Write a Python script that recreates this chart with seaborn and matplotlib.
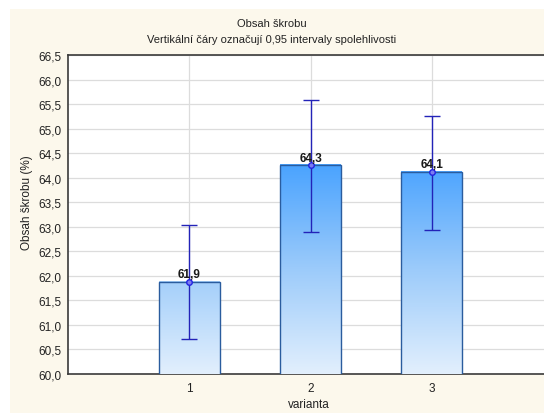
import numpy as np
import pandas as pd
import matplotlib
matplotlib.use("Agg")
import matplotlib.pyplot as plt
from matplotlib.patches import Rectangle
from matplotlib.colors import LinearSegmentedColormap
import seaborn as sns

# Mean starch content per variant with 0.95 confidence limits
varianta = ["1", "2", "3"]
prumer = [61.88, 64.26, 64.12]
ci_dolni = [60.71, 62.90, 62.94]
ci_horni = [63.04, 65.59, 65.25]
y_ticks = [60.0, 60.5, 61.0, 61.5, 62.0, 62.5, 63.0, 63.5, 64.0, 64.5, 65.0, 65.5, 66.0, 66.5]

sns.set_theme(style="white")
plt.rcParams["font.family"] = ["Liberation Sans", "DejaVu Sans"]

cream = "#FCF8EC"
fig = plt.figure(figsize=(5.44, 4.14), dpi=100, facecolor="white")
fig.patches.append(Rectangle((10 / 544, 0), 1, 1 - 10 / 414, transform=fig.transFigure,
                             facecolor=cream, edgecolor="none", zorder=-10))

ax = fig.add_axes([68 / 544, 1 - 375 / 414, 1 - 68 / 544 + 0.01, (375 - 56) / 414])
ax.set_facecolor("white")

df = pd.DataFrame({"varianta": varianta, "prumer": prumer})
sns.barplot(data=df, x="varianta", y="prumer", width=0.5, color="#4DA6FF",
            edgecolor="#2A5C9E", linewidth=1.0, errorbar=None, ax=ax, zorder=3)

y0, y1 = 60.0, 66.5
ax.set_ylim(y0, y1)
ax.set_xlim(-1, 2.97)

# Vertical gradient fill shared by all bars (light at the base, saturated near the top)
cmap = LinearSegmentedColormap.from_list("modra", ["#E2EFFD", "#9CCBFA", "#4AA3FF"])
vmax = max(prumer)
for patch in list(ax.patches):
    x0 = patch.get_x()
    w = patch.get_width()
    top = patch.get_y() + patch.get_height()
    levels = np.linspace(y0, top, 200)
    grad = cmap((levels - y0) / (vmax - y0))[:, None, :]
    ax.imshow(grad, extent=(x0, x0 + w, y0, top), origin="lower", aspect="auto",
              zorder=3, interpolation="bilinear")
    patch.set_facecolor("none")
    patch.set_zorder(4)

# Confidence interval whiskers and mean markers
pos = np.arange(len(varianta))
m = np.array(prumer)
yerr = [m - np.array(ci_dolni), np.array(ci_horni) - m]
ax.errorbar(pos, m, yerr=yerr, fmt="o", color="#2323B8", ecolor="#2323B8",
            elinewidth=1.0, capsize=6, capthick=1.0, markersize=4,
            markerfacecolor="#7C7CF2", markeredgecolor="#2323E0", zorder=6)

for xi, v in zip(pos, prumer):
    ax.annotate(f"{v:.1f}".replace(".", ","), (xi, v), xytext=(0, 1.0),
                textcoords="offset points", ha="center", va="bottom",
                fontsize=8.5, fontweight="bold", color="#1A1A1A", zorder=7)

ax.set_yticks(y_ticks)
ax.set_yticklabels([f"{t:.1f}".replace(".", ",") for t in y_ticks])
ax.set_xticks(pos)
ax.set_xticklabels(varianta)

ax.grid(True, color="#DCDCDC", linewidth=0.9, zorder=0)
ax.set_axisbelow(True)
ax.tick_params(axis="both", direction="in", length=3, width=0.8, color="#333333",
               labelsize=8.5, labelcolor="#222222", pad=5)
ax.tick_params(axis="x", pad=6)

for side in ["left", "bottom", "top"]:
    ax.spines[side].set_color("#3A3A3A")
    ax.spines[side].set_linewidth(1.2)
ax.spines["right"].set_visible(False)

ax.set_xlabel("varianta", fontsize=8.5, color="#222222", labelpad=3)
ax.set_ylabel("Obsah škrobu (%)", fontsize=8.5, color="#222222")
ax.yaxis.set_label_coords(-0.072, 0.54)

fig.text(0.5, 1 - 24 / 414, "Obsah škrobu", ha="center", va="center",
         fontsize=8, color="#222222")
fig.text(0.5, 1 - 40 / 414, "Vertikální čáry označují 0,95 intervaly spolehlivosti",
         ha="center", va="center", fontsize=8, color="#222222")

fig.savefig("out.png", dpi=100, facecolor=fig.get_facecolor())
